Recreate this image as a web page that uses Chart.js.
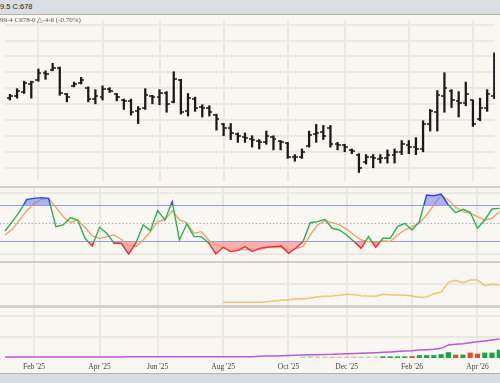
<!DOCTYPE html>
<html lang="en">
<head>
<meta charset="UTF-8" />
<title>Weekly Futures Chart</title>
<script src="https://cdn.jsdelivr.net/npm/chart.js"></script>
<style>
  html, body { margin: 0; padding: 0; }
  body {
    width: 500px; height: 383px; position: relative; overflow: hidden;
    background: #d3d0ca; font-family: 'Liberation Sans', sans-serif;
  }
  .header {
    position: absolute; left: 0; top: 0; width: 500px; height: 14px;
    background: #dadde1; border-bottom: 1px solid #b4b2ad;
    font-size: 7.5px; color: #222; line-height: 13px; white-space: nowrap;
  }
  .panel { position: absolute; left: 0; width: 500px; background: #f9f7f1; }
  .panel canvas { display: block; }
  .quote {
    position: absolute; left: 0; top: 16px; font-family: 'Liberation Serif', serif;
    font-size: 7px; color: #555; white-space: nowrap; z-index: 2;
  }
  .footer {
    position: absolute; left: 0; top: 373px; width: 500px; height: 10px;
    background: #d9dce0; border-top: 1px solid #b2b0ab;
  }
</style>
</head>
<body>
  <div class="header">9.5 C:678</div>
  <div class="quote">99-4 C678-0 &#9651;-4-6 (-0.70%)</div>
  <div class="panel" style="top:15px;height:171px"><canvas id="price" width="500" height="171"></canvas></div>
  <div class="panel" style="top:188px;height:73px"><canvas id="stoch" width="500" height="73"></canvas></div>
  <div class="panel" style="top:263px;height:42px"><canvas id="oi" width="500" height="42"></canvas></div>
  <div class="panel" style="top:308px;height:65px"><canvas id="vol" width="500" height="65"></canvas></div>
  <div class="footer"></div>

<script>
  // week index 0 = first visible weekly bar (early Jan '25)
  const monthTicks = [4, 13, 21, 30, 39, 47, 56, 65];
  const monthLabels = ["Feb '25", "Apr '25", "Jun '25", "Aug '25", "Oct '25", "Dec '25", "Feb '26", "Apr '26"];

  const opens = [677.6, 680.0, 685.9, 695.4, 700.1, 709.6, 713.2, 715.5, 682.4, 693.0,
                 696.6, 690.7, 676.4, 678.8, 689.5, 682.4, 675.3, 674.1, 661.0, 664.6,
                 680.0, 678.8, 683.5, 672.9, 700.1, 661.0, 676.4, 667.0, 665.8, 656.3,
                 644.5, 639.7, 632.6, 629.1, 626.7, 624.3, 622.0, 629.1, 623.1, 620.8,
                 604.2, 604.2, 617.2, 632.6, 635.0, 639.7, 619.6, 618.4, 612.5, 606.6,
                 597.1, 603.0, 600.6, 601.8, 606.6, 610.1, 618.4, 616.0, 613.7, 644.5,
                 659.9, 680.0, 687.1, 674.1, 671.7, 675.0, 651.6, 665.8, 680.0];
  const highs = [682.4, 689.5, 698.9, 698.9, 714.3, 712.0, 721.4, 716.7, 683.5, 697.8,
                 703.7, 691.8, 688.3, 693.0, 690.7, 683.5, 676.4, 676.4, 667.0, 689.5,
                 681.2, 688.3, 685.9, 710.8, 701.3, 683.5, 678.8, 669.3, 668.1, 657.5,
                 645.6, 645.6, 633.8, 633.8, 630.3, 625.5, 636.2, 630.3, 624.3, 622.0,
                 606.6, 613.7, 636.2, 644.5, 643.3, 643.3, 622.0, 619.6, 613.7, 607.8,
                 606.6, 606.6, 606.6, 612.5, 613.7, 624.3, 624.3, 627.9, 649.2, 663.4,
                 687.1, 709.6, 688.3, 685.9, 697.8, 675.3, 677.6, 688.3, 734.5];
  const lows = [675.3, 677.6, 683.5, 677.6, 698.9, 701.3, 712.0, 681.2, 672.9, 691.8,
                695.4, 672.9, 670.5, 675.3, 684.7, 674.1, 663.4, 656.3, 645.6, 663.4,
                670.5, 669.3, 659.9, 671.7, 657.5, 655.1, 661.0, 653.9, 655.1, 637.4,
                630.3, 625.5, 622.0, 622.0, 616.0, 613.7, 619.6, 612.5, 612.5, 601.8,
                598.3, 601.8, 616.0, 622.0, 625.5, 616.0, 612.5, 610.1, 607.8, 584.1,
                594.7, 590.0, 595.9, 595.9, 595.9, 606.6, 607.8, 606.6, 610.1, 636.2,
                636.2, 659.9, 665.8, 653.9, 668.1, 642.1, 649.2, 661.0, 677.0];
  const closes = [680.0, 687.1, 696.6, 697.8, 709.6, 708.4, 715.5, 683.5, 678.8, 695.4,
                  700.1, 676.4, 680.0, 689.5, 687.1, 678.8, 674.1, 659.9, 663.4, 681.2,
                  678.8, 683.5, 670.5, 701.3, 659.9, 677.6, 665.8, 665.8, 659.9, 651.6,
                  639.7, 633.8, 630.3, 627.9, 625.5, 622.0, 630.3, 626.7, 622.0, 604.2,
                  603.0, 610.1, 631.4, 633.8, 630.3, 619.6, 618.4, 616.0, 611.3, 590.0,
                  603.0, 601.8, 601.8, 606.6, 610.1, 619.6, 616.0, 613.7, 645.6, 661.0,
                  681.2, 690.7, 675.3, 671.7, 682.4, 645.6, 665.8, 682.75, 678.0];

  // stochastic %K / %D
  const stochK = [37.8, 53.0, 69.2, 89.2, 90.8, 91.9, 90.8, 44.9, 47.6, 59.5,
                  55.7, 26.0, 13.5, 43.8, 34.1, 17.9, 17.9, 0.6, 17.9, 47.6,
                  38.4, 70.8, 55.7, 85.4, 23.3, 49.2, 28.7, 28.7, 18.9, 0.6,
                  11.4, 4.4, 6.0, 12.5, 4.4, 9.7, 11.4, 12.5, 13.5, 1.7,
                  9.7, 20.6, 51.3, 53.0, 56.7, 42.2, 39.5, 31.4, 20.6, 9.7,
                  28.7, 11.4, 26.0, 26.0, 44.9, 50.3, 39.5, 53.0, 96.2, 95.1,
                  97.8, 80.0, 67.6, 73.0, 68.1, 42.2, 55.7, 73.5, 74.6];
  const stochD = [31.4, 40.5, 55.7, 70.8, 82.7, 89.2, 90.8, 76.2, 61.1, 51.3,
                  55.7, 43.8, 29.7, 26.0, 28.7, 31.4, 24.3, 13.5, 12.5, 23.3,
                  36.8, 53.0, 55.7, 70.8, 55.7, 51.3, 34.1, 36.8, 23.3, 15.2,
                  11.4, 7.1, 8.1, 7.1, 8.1, 7.1, 10.8, 11.4, 10.8, 7.1,
                  9.7, 12.5, 31.4, 47.6, 54.6, 51.3, 47.6, 40.5, 31.4, 23.3,
                  20.6, 18.9, 22.2, 20.6, 31.4, 39.5, 44.9, 50.3, 63.8, 80.0,
                  96.2, 88.1, 76.2, 69.2, 66.5, 61.1, 55.7, 58.4, 69.2];
  const stochLevels = [20, 50, 80];

  // open interest (thousands)
  const openInt = [null, null, null, null, null, null, null, null, null, null,
                   null, null, null, null, null, null, null, null, null, null,
                   null, null, null, null, null, null, null, null, null, null,
                   16.7, 16.7, 16.7, 16.7, 16.7, 16.7, 19.7, 22.7, 25.8, 28.8,
                   31.8, 33.3, 34.8, 42.4, 43.9, 45.5, 48.5, 53.0, 51.5, 47.0,
                   45.5, 43.9, 53.0, 50.0, 50.0, 48.5, 45.5, 39.4, 40.9, 56.1,
                   63.6, 107.6, 116.7, 104.5, 118.2, 118.2, 92.4, 98.5, 95.5];

  // volume (thousands), up/down week, and its average line
  const volume = [null, null, null, null, null, null, null, null, null, null,
                  null, null, null, null, null, null, null, null, null, null,
                  null, null, null, null, null, null, null, null, null, null,
                  null, null, null, null, null, null, null, null, null, null,
                  null, 1.0, 1.4, 1.0, 1.0, 1.0, 1.0, 1.0, 1.0, 1.0,
                  1.0, 1.0, 1.2, 1.2, 1.2, 1.2, 1.4, 2.4, 2.4, 2.4,
                  3.3, 5.2, 2.9, 2.9, 4.8, 3.8, 4.8, 4.8, 7.6];
  const volUp = [0, 0, 0, 0, 0, 0, 0, 0, 0, 0, 0, 0, 0, 0, 0, 0, 0, 0, 0, 0,
                 0, 0, 0, 0, 0, 0, 0, 0, 0, 0, 0, 0, 0, 0, 0, 0, 0, 0, 0, 0,
                 0, 1, 1, 0, 1, 0, 0, 0, 0, 1, 1, 1, 1, 1, 1, 1, 0, 1, 1, 1,
                 1, 1, 0, 1, 0, 0, 1, 1, 1];
  const volAvg = [1.0, 1.0, 1.0, 1.0, 1.0, 1.0, 1.0, 1.0, 1.0, 1.0,
                  1.0, 1.0, 1.0, 1.0, 1.0, 1.0, 1.0, 1.2, 1.2, 1.2,
                  1.2, 1.2, 1.2, 1.2, 1.2, 1.2, 1.2, 1.2, 1.2, 1.2,
                  1.3, 1.3, 1.3, 1.3, 1.3, 1.6, 1.8, 2.0, 2.2, 2.4,
                  2.6, 2.8, 3.0, 3.2, 3.4, 3.5, 3.8, 4.1, 4.3, 4.6,
                  4.8, 5.1, 5.4, 5.8, 6.2, 6.6, 7.0, 7.6, 7.9, 8.3,
                  9.2, 12.4, 13.0, 13.6, 14.6, 15.5, 16.2, 17.1, 18.1];

  const X_MIN = -0.69, X_MAX = 68.1;
  const GRID = '#ebe8e2';
  const GREEN = '#2bb352', BLUE = '#2a44f0', RED = '#f02a3a';

  const pts = arr => arr.map((y, i) => ({ x: i, y: y }));

  // little open/close ticks used as point images
  function tickImage(side) {
    const c = document.createElement('canvas');
    c.width = 6; c.height = 2;
    const g = c.getContext('2d');
    g.fillStyle = '#1a1a1a';
    if (side === 'left') g.fillRect(0, 0.25, 3, 1.5);
    else g.fillRect(3, 0.25, 3, 1.5);
    return c;
  }

  function xScale(showLabels) {
    const s = {
      type: 'linear', min: X_MIN, max: X_MAX, offset: false,
      afterBuildTicks: sc => { sc.ticks = monthTicks.map(v => ({ value: v })); },
      grid: { color: GRID, lineWidth: 2, drawTicks: false, offset: false },
      border: { display: false },
      ticks: { display: false }
    };
    if (showLabels) {
      s.ticks = {
        display: true, autoSkip: false, maxRotation: 0, padding: 5,
        color: '#444', font: { family: 'Liberation Serif', size: 7.5 },
        callback: v => monthLabels[monthTicks.indexOf(v)]
      };
      s.afterFit = sc => { sc.height = 15; };
    }
    return s;
  }

  function yScale(min, max, lines) {
    return {
      min: min, max: max,
      afterBuildTicks: sc => { sc.ticks = lines.map(v => ({ value: v })); },
      grid: { color: GRID, lineWidth: 2, drawTicks: false },
      border: { display: false },
      ticks: { display: false }
    };
  }

  const base = {
    responsive: false, animation: false,
    layout: { padding: 0 },
    plugins: { legend: { display: false }, tooltip: { enabled: false } }
  };

  // price panel: OHLC bars
  new Chart(document.getElementById('price'), {
    type: 'bar',
    data: {
      datasets: [
        { type: 'scatter', data: pts(opens), pointStyle: tickImage('left'), pointRadius: 3 },
        { type: 'scatter', data: pts(closes), pointStyle: tickImage('right'), pointRadius: 3 },
        {
          type: 'bar', data: lows.map((lo, i) => ({ x: i, y: [lo, highs[i]] })),
          backgroundColor: '#1a1a1a', borderWidth: 0, barThickness: 1.6, borderSkipped: false
        }
      ]
    },
    options: Object.assign({}, base, {
      scales: {
        x: xScale(false),
        y: yScale(573.4, 775.9, [590, 610, 630, 650, 670, 690, 710, 730, 750, 770])
      }
    })
  });

  // stochastic panel
  function zoneColor(ctx) {
    const chart = ctx.chart, area = chart.chartArea;
    if (!area) return GREEN;
    const y = chart.scales.y, h = area.bottom - area.top;
    const p80 = Math.min(1, Math.max(0, (y.getPixelForValue(80) - area.top) / h));
    const p20 = Math.min(1, Math.max(0, (y.getPixelForValue(20) - area.top) / h));
    const g = chart.ctx.createLinearGradient(0, area.top, 0, area.bottom);
    g.addColorStop(0, BLUE); g.addColorStop(p80, BLUE);
    g.addColorStop(p80, GREEN); g.addColorStop(p20, GREEN);
    g.addColorStop(p20, RED); g.addColorStop(1, RED);
    return g;
  }

  new Chart(document.getElementById('stoch'), {
    type: 'line',
    data: {
      datasets: [
        {
          data: pts(stochK), borderColor: zoneColor, borderWidth: 1.4, pointRadius: 0,
          fill: { target: { value: stochLevels[2] }, above: 'rgba(105,125,240,0.55)', below: 'rgba(0,0,0,0)' }
        },
        { data: pts(stochD), borderColor: '#f5a05c', borderWidth: 1.3, pointRadius: 0, fill: false },
        {
          data: pts(stochK), borderColor: 'rgba(0,0,0,0)', borderWidth: 0, pointRadius: 0,
          fill: { target: { value: stochLevels[0] }, above: 'rgba(0,0,0,0)', below: 'rgba(245,120,120,0.55)' }
        },
        {
          data: [{ x: X_MIN, y: stochLevels[1] }, { x: X_MAX, y: stochLevels[1] }],
          borderColor: '#a6a8cc', borderWidth: 1, borderDash: [1.5, 2], pointRadius: 0, fill: false
        }
      ]
    },
    options: Object.assign({}, base, {
      scales: {
        x: xScale(false),
        y: {
          min: -10.9, max: 107.6,
          afterBuildTicks: sc => { sc.ticks = [0, 20, 80, 100].map(v => ({ value: v })); },
          grid: {
            drawTicks: false,
            color: c => (c.tick && (c.tick.value === 20 || c.tick.value === 80)) ? '#9a9bda' : GRID,
            lineWidth: c => (c.tick && (c.tick.value === 20 || c.tick.value === 80)) ? 1 : 2
          },
          border: { display: false },
          ticks: { display: false }
        }
      }
    })
  });

  // open interest panel
  new Chart(document.getElementById('oi'), {
    type: 'line',
    data: {
      datasets: [
        { data: pts(openInt), borderColor: '#f8c16e', borderWidth: 1.5, pointRadius: 0, fill: false }
      ]
    },
    options: Object.assign({}, base, {
      scales: { x: xScale(false), y: yScale(4.5, 195.5, [100]) }
    })
  });

  // volume panel
  new Chart(document.getElementById('vol'), {
    type: 'bar',
    data: {
      datasets: [
        {
          type: 'line', data: pts(volAvg), borderColor: '#c455d4', borderWidth: 1.5,
          pointRadius: 0, fill: false
        },
        {
          type: 'bar', data: pts(volume), barThickness: 4.5, borderWidth: 0,
          backgroundColor: volUp.map((u, i) => {
            const faded = i < 52;
            if (u) return faded ? 'rgba(30,165,75,0.35)' : '#16a54a';
            return faded ? 'rgba(240,70,50,0.35)' : '#f0452f';
          })
        }
      ]
    },
    options: Object.assign({}, base, {
      scales: { x: xScale(true), y: yScale(0, 47.6, [20, 40]) }
    })
  });
</script>
</body>
</html>
